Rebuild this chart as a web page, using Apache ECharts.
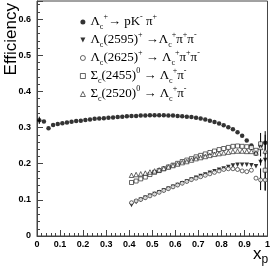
<!DOCTYPE html>
<html><head><meta charset="utf-8">
<script src="https://cdn.jsdelivr.net/npm/echarts@6/dist/echarts.min.js"></script>
<style>html,body{margin:0;padding:0;background:#fff}#c{width:273px;height:271px}</style>
</head><body><div id="c"></div>
<script>
// Λc+ → pK-π+ (filled circles)
const xMain = [0.01,0.03,0.05,0.07,0.09,0.11,0.13,0.15,0.17,0.19,0.21,0.23,0.25,0.27,0.29,0.31,0.33,0.35,0.37,0.39,0.41,0.43,0.45,0.47,0.49,0.51,0.53,0.55,0.57,0.59,0.61,0.63,0.65,0.67,0.69,0.71,0.73,0.75,0.77,0.79,0.81,0.83,0.85,0.87,0.89,0.91,0.93,0.95,0.97,0.99];
const yMain = [0.320,0.317,0.298,0.307,0.310,0.312,0.314,0.316,0.318,0.319,0.321,0.322,0.324,0.325,0.326,0.327,0.328,0.329,0.330,0.331,0.332,0.332,0.333,0.333,0.334,0.334,0.334,0.334,0.333,0.333,0.332,0.331,0.330,0.329,0.327,0.325,0.322,0.319,0.315,0.311,0.306,0.301,0.295,0.287,0.277,0.264,0.250,0.228,0.250,0.258];
// resonances, bins from 0.41 to 0.99
const xRes = [0.41,0.43,0.45,0.47,0.49,0.51,0.53,0.55,0.57,0.59,0.61,0.63,0.65,0.67,0.69,0.71,0.73,0.75,0.77,0.79,0.81,0.83,0.85,0.87,0.89,0.91,0.93,0.95,0.97,0.99];
const yL2595 = [0.086,0.094,0.100,0.106,0.111,0.116,0.121,0.126,0.131,0.136,0.141,0.146,0.151,0.156,0.161,0.166,0.170,0.175,0.179,0.183,0.187,0.191,0.195,0.197,0.197,0.197,0.196,0.193,0.205,0.210];
const yL2625 = [0.092,0.097,0.101,0.106,0.111,0.116,0.121,0.126,0.131,0.136,0.141,0.146,0.151,0.156,0.160,0.164,0.168,0.172,0.176,0.180,0.184,0.186,0.186,0.184,0.180,0.178,0.182,0.160,0.155,0.155];
const yS2455 = [0.148,0.152,0.158,0.163,0.170,0.176,0.181,0.186,0.191,0.196,0.201,0.206,0.210,0.214,0.219,0.223,0.227,0.231,0.235,0.239,0.242,0.245,0.248,0.249,0.248,0.247,0.245,0.237,0.255,0.182];
const yS2520 = [0.168,0.170,0.172,0.174,0.177,0.180,0.183,0.187,0.191,0.195,0.199,0.203,0.206,0.210,0.214,0.217,0.220,0.223,0.226,0.228,0.230,0.232,0.234,0.235,0.235,0.234,0.234,0.230,0.245,0.235];
// error bars (x, low, high)
const errX  = [0.01, 0.97, 0.99, 0.99, 0.97, 0.99, 0.97];
const errLo = [0.310,0.220,0.225,0.127,0.127,0.125,0.195];
const errHi = [0.330,0.285,0.290,0.280,0.187,0.185,0.215];

const names = ['main','l2595','l2625','s2455','s2520'];
const labels = {
  main: '{n|Λ}{sub|c}{sup|+}{n|→ pK}{sup|-}{n| π}{sup|+}',
  l2595: '{n|Λ}{sub|c}{n|(2595)}{sup|+}{n| →Λ}{sub|c}{sup|+}{n|π}{sup|+}{n|π}{sup|-}',
  l2625: '{n|Λ}{sub|c}{n|(2625)}{sup|+}{n| → Λ}{sub|c}{sup|+}{n|π}{sup|+}{n|π}{sup|-}',
  s2455: '{n|Σ}{sub|c}{n|(2455)}{sup|0}{n| → Λ}{sub|c}{sup|+}{n|π}{sup|-}',
  s2520: '{n|Σ}{sub|c}{n|(2520)}{sup|0}{n| → Λ}{sub|c}{sup|+}{n|π}{sup|-}'
};
const pairs = (xs, ys) => xs.map((x, i) => [x, ys[i]]);

const chart = echarts.init(document.getElementById('c'), null, {renderer: 'canvas'});
const axisFont = {fontFamily: 'Liberation Sans', fontSize: 9, fontWeight: 'bold', color: '#000'};
const serifRich = {
  n: {fontFamily: 'Liberation Serif', fontSize: 13, lineHeight: 18, color: '#000'},
  sub: {fontFamily: 'Liberation Serif', fontSize: 8, lineHeight: 9, verticalAlign: 'bottom', color: '#000'},
  sup: {fontFamily: 'Liberation Serif', fontSize: 8, lineHeight: 9, verticalAlign: 'top', color: '#000'}
};
const invTri = 'path://M0,0L10,0L5,10Z';
const filledStyle = {color: '#000', borderWidth: 0};
const openStyle = {color: '#fff', borderColor: '#111', borderWidth: 0.8};
const openSet = {l2625: 1, s2455: 1, s2520: 1};
const sc = (name, ys, xs, symbol, size) => ({
  name, type: 'scatter', data: pairs(xs, ys), symbol, symbolSize: size,
  itemStyle: openSet[name] ? openStyle : filledStyle, z: 3
});
chart.setOption({
  animation: false,
  grid: {left: 37, right: 3, top: 1, bottom: 35, show: true, borderColor: '#444', borderWidth: 1},
  xAxis: {type: 'value', min: 0, max: 1, interval: 0.1,
    axisLine: {show: true, onZero: false, lineStyle: {color: '#444'}},
    axisTick: {inside: true, length: 6, lineStyle: {color: '#444'}},
    minorTick: {show: true, splitNumber: 5, length: 3, lineStyle: {color: '#444'}},
    splitLine: {show: false},
    axisLabel: Object.assign({margin: 4}, axisFont)},
  yAxis: {type: 'value', min: 0, max: 0.65, interval: 0.1,
    axisLine: {show: true, onZero: false, lineStyle: {color: '#444'}},
    axisTick: {inside: true, length: 6, lineStyle: {color: '#444'}},
    minorTick: {show: true, splitNumber: 5, length: 3, lineStyle: {color: '#444'}},
    splitLine: {show: false},
    axisLabel: Object.assign({margin: 6, showMaxLabel: false}, axisFont)},
  legend: {orient: 'vertical', left: 75, top: 8, itemWidth: 5, itemHeight: 5, itemGap: 0, itemTextGap: 8,
    data: names.map(n => ({name: n, itemStyle: openSet[n] ? openStyle : filledStyle})),
    formatter: n => labels[n], textStyle: {rich: serifRich}},
  graphic: [
    {type: 'text', left: 3, top: 3, rotation: Math.PI / 2, style: {text: 'Efficiency', font: '17px "Liberation Sans"', fill: '#000'}},
    {type: 'text', left: 253, top: 246, style: {text: '{x|x}{p|p}', rich: {x: {fontFamily: 'Liberation Sans', fontSize: 17, lineHeight: 20, verticalAlign: 'top'}, p: {fontFamily: 'Liberation Sans', fontSize: 12, lineHeight: 12, verticalAlign: 'bottom'}}, fill: '#000'}}
  ],
  series: [
    sc('main', yMain, xMain, 'circle', 4.5),
    sc('l2595', yL2595, xRes, invTri, 4.5),
    sc('l2625', yL2625, xRes, 'circle', 4),
    sc('s2455', yS2455, xRes, 'rect', 4),
    sc('s2520', yS2520, xRes, 'triangle', 4.5),
    {type: 'custom', z: 2, data: errX.map((x, i) => [x, errLo[i], errHi[i]]),
      renderItem: (params, api) => {
        const a = api.coord([api.value(0), api.value(1)]);
        const b = api.coord([api.value(0), api.value(2)]);
        return {type: 'line', shape: {x1: a[0], y1: a[1], x2: b[0], y2: b[1]}, style: {stroke: '#000', lineWidth: 1}};
      }}
  ]
});
</script></body></html>
